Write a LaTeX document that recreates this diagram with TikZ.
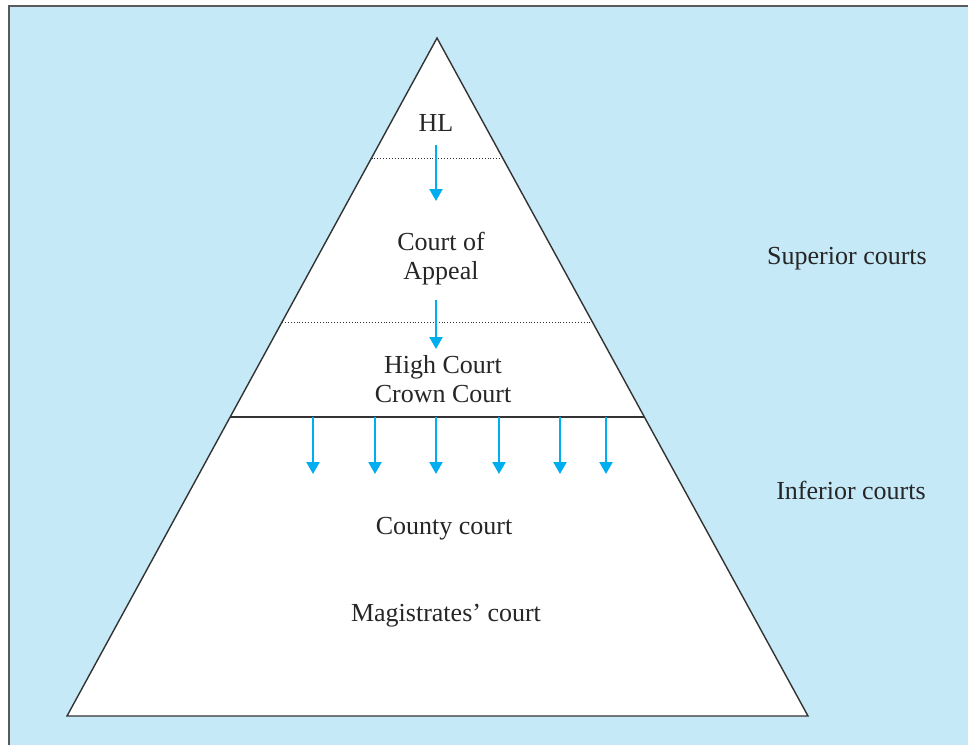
\documentclass[tikz,border=0pt]{standalone}
\usepackage{fontspec}
\setmainfont{Liberation Serif}
\usetikzlibrary{arrows.meta}
\definecolor{bgblue}{HTML}{C6E9F8}
\definecolor{arrowblue}{HTML}{00AEEF}
\definecolor{edge}{HTML}{333333}
\definecolor{frame}{HTML}{5A5A5A}
\tikzset{
  lbl/.style={align=center,inner sep=0pt,text=black!85,font=\fontsize{26}{29}\selectfont},
  down/.style={draw=arrowblue,line width=2.2pt,-{Triangle[width=13pt,length=12pt]}},
  tier/.style={draw=edge,line width=0.9pt,dotted},
}
\begin{document}
\begin{tikzpicture}[x=1pt,y=-1pt]
\useasboundingbox (0,0) rectangle (968,745);
\fill[bgblue] (9,6) rectangle (968,745);
\draw[frame,line width=1.6pt] (968,6) -- (9,6) -- (9,745);
% pyramid
\coordinate (apex) at (437,38);
\coordinate (bl) at (67,716);
\coordinate (br) at (808,716);
\filldraw[fill=white,draw=edge,line width=1.4pt,line join=miter] (apex) -- (br) -- (bl) -- cycle;
% tier lines
\coordinate (t1l) at (371.5,158); \coordinate (t1r) at (502.5,158);
\coordinate (t2l) at (282,322);   \coordinate (t2r) at (592,322);
\coordinate (t3l) at (230,417);   \coordinate (t3r) at (644,417);
\draw[tier] (t1l) -- (t1r);
\draw[tier] (t2l) -- (t2r);
\draw[draw=edge,line width=1.4pt] (t3l) -- (t3r);
% labels
\node[lbl] (hl) at (436,123) {HL};
\node[lbl] (ca) at (441,259) {Court of\\Appeal};
\node[lbl] (hc) at (443,379) {High Court\\Crown Court};
\node[lbl] (cc) at (444,529) {County court};
\node[lbl] (mc) at (446,616) {Magistrates’ court};
\node[lbl] (sup) at (847,259) {Superior courts};
\node[lbl] (inf) at (851,490) {Inferior courts};
% arrows
\coordinate (a1s) at (436,145); \coordinate (a1e) at (436,201);
\coordinate (a2s) at (436,300); \coordinate (a2e) at (436,349);
\draw[down] (a1s) -- (a1e);
\draw[down] (a2s) -- (a2e);
\foreach \x [count=\i] in {313,375,436,499,560,606}{
  \coordinate (b\i s) at (\x,417);
  \coordinate (b\i e) at (\x,474);
  \draw[down] (b\i s) -- (b\i e);
}
\end{tikzpicture}
\end{document}
